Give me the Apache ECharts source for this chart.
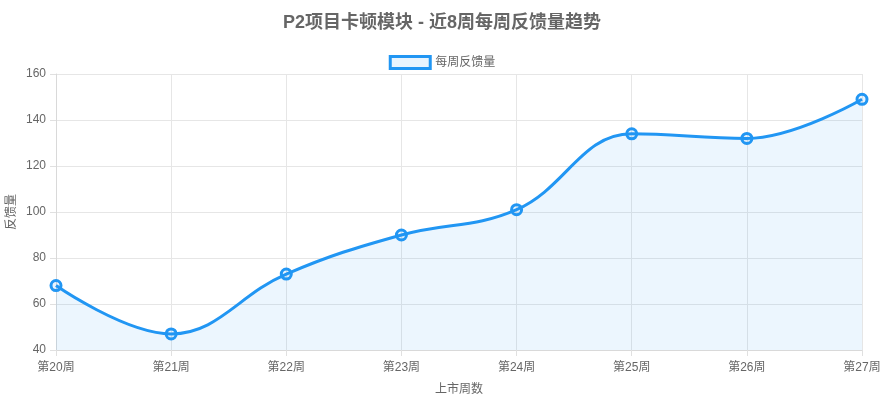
<!DOCTYPE html>
<html><head><meta charset="utf-8">
<script src="https://cdn.jsdelivr.net/npm/echarts@6/dist/echarts.min.js"></script>
<style>html,body{margin:0;padding:0;background:#fff}#c{width:884px;height:401px}</style>
</head><body><div id="c"></div>
<script>
const categories = ['第20周','第21周','第22周','第23周','第24周','第25周','第26周','第27周'];
const feedback = [68, 47, 73, 90, 101, 134, 132, 149];
const yTicks = {min: 40, max: 160, interval: 20};
const font = '"Liberation Sans", "Noto Sans CJK SC", sans-serif';
const chart = echarts.init(document.getElementById('c'));
chart.setOption({
  animation: false,
  textStyle: {fontFamily: font},
  title: {text: 'P2项目卡顿模块 - 近8周每周反馈量趋势', left: 'center', top: 9,
    textStyle: {fontSize: 18, fontWeight: 'bold', color: '#666', fontFamily: font}},
  legend: {top: 50, left: 'center', itemWidth: 40, itemHeight: 12, itemGap: 10,
    textStyle: {fontSize: 12, color: '#666'},
    data: [{name: '每周反馈量', icon: 'rect', itemStyle: {color: 'rgba(33,150,243,0.1)', borderColor: '#2196F3', borderWidth: 3}}]},
  grid: {left: 56, right: 22, top: 74, bottom: 51, containLabel: false, outerBoundsMode: 'none'},
  xAxis: {type: 'category', data: categories, boundaryGap: false,
    name: '上市周数', nameLocation: 'middle', nameGap: 34, nameMoveOverlap: false,
    nameTextStyle: {color: '#666', fontSize: 12},
    axisLine: {show: true, lineStyle: {color: '#d9d9d9'}},
    axisTick: {show: true, length: 6, lineStyle: {color: '#e0e0e0'}},
    axisLabel: {color: '#666', fontSize: 12, margin: 12},
    splitLine: {show: true, lineStyle: {color: '#e6e6e6'}}},
  yAxis: {type: 'value', min: yTicks.min, max: yTicks.max, interval: yTicks.interval,
    name: '反馈量', nameLocation: 'middle', nameGap: 38, nameMoveOverlap: false,
    nameTextStyle: {color: '#666', fontSize: 12},
    axisLine: {show: true, lineStyle: {color: '#d9d9d9'}},
    axisTick: {show: true, length: 6, lineStyle: {color: '#e0e0e0'}},
    axisLabel: {color: '#666', fontSize: 12, margin: 10},
    splitLine: {show: true, lineStyle: {color: '#e6e6e6'}}},
  series: [{name: '每周反馈量', type: 'line', data: feedback, smooth: 0.4,
    symbol: 'circle', symbolSize: 10,
    itemStyle: {color: 'rgba(33,150,243,0.1)', borderColor: '#2196F3', borderWidth: 3},
    lineStyle: {color: '#2196F3', width: 3},
    areaStyle: {color: 'rgba(33,150,243,0.12)'}}]
});
</script></body></html>
